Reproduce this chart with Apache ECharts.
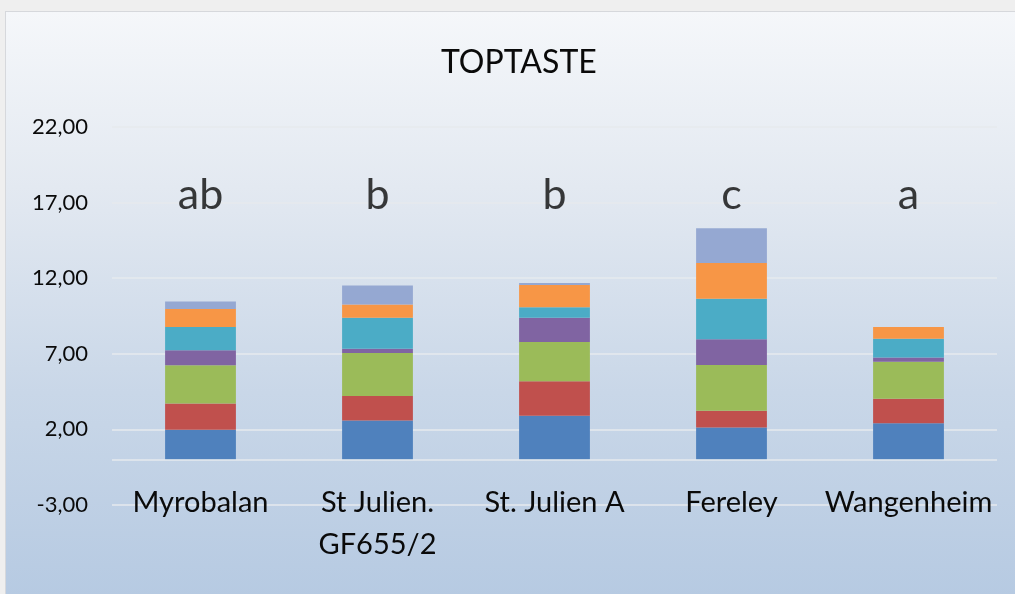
<!DOCTYPE html>
<html>
<head>
<meta charset="utf-8">
<script src="https://cdn.jsdelivr.net/npm/echarts@6/dist/echarts.min.js"></script>
<style>
  html, body { margin: 0; padding: 0; width: 1015px; height: 594px; background: #efefef; overflow: hidden; }
  #frame { position: absolute; left: 5px; top: 11px; width: 1012px; height: 585px; border: 1px solid #d6d8dc;
           background: linear-gradient(180deg, #f5f7fa 0%, #e3e9f1 30%, #c9d7e8 65%, #b6cae2 100%); }
  #chart { position: absolute; left: 0; top: 0; width: 1015px; height: 594px; }
</style>
</head>
<body>
<div id="frame"></div>
<div id="chart"></div>
<script>
const categories = ['Myrobalan', 'St Julien.\nGF655/2', 'St. Julien A', 'Fereley', 'Wangenheim'];
const seriesNames = ['S1', 'S2', 'S3', 'S4', 'S5', 'S6', 'S7'];
const s1 = [1.97, 2.59, 2.91, 2.13, 2.41];
const s2 = [1.75, 1.62, 2.28, 1.10, 1.61];
const s3 = [2.53, 2.85, 2.59, 3.03, 2.45];
const s4 = [0.99, 0.28, 1.60, 1.71, 0.28];
const s5 = [1.53, 2.04, 0.70, 2.67, 1.25];
const s6 = [1.20, 0.88, 1.47, 2.37, 0.77];
const s7 = [0.49, 1.25, 0.13, 2.30, 0.00];
const groupLetters = ['ab', 'b', 'b', 'c', 'a'];
const letterLevel = [17.5, 17.5, 17.5, 17.5, 17.5];
const yTicks = { min: -3, max: 22, interval: 5 };

const colors = ['#4f81bd', '#c0504d', '#9bbb59', '#8064a2', '#4bacc6', '#f79646', '#95a8d2'];
const values = [s1, s2, s3, s4, s5, s6, s7];
const FONT = 'Lato, "Open Sans", sans-serif';

const series = values.map((v, i) => ({
  name: seriesNames[i],
  type: 'bar',
  stack: 'total',
  barWidth: '40%',
  data: v,
  itemStyle: { color: colors[i] },
  emphasis: { disabled: true },
  markLine: i === 0 ? {
    silent: true, symbol: 'none', label: { show: false },
    lineStyle: { color: '#e6eaee', width: 1.5, type: 'solid' },
    data: [{ yAxis: 0 }]
  } : undefined,
  z: 3
}));

series.push({
  type: 'scatter',
  data: letterLevel.map((v, i) => ({ value: v, name: groupLetters[i] })),
  symbolSize: 0,
  label: {
    show: true, position: 'inside',
    formatter: p => groupLetters[p.dataIndex],
    fontFamily: FONT, fontSize: 43, color: '#0a0a0a'
  },
  silent: true,
  z: 5
});

const chart = echarts.init(document.getElementById('chart'), null, { renderer: 'canvas' });
chart.setOption({
  backgroundColor: 'transparent',
  animation: false,
  title: {
    text: 'TOPTASTE', left: 436, top: 42,
    textStyle: { fontFamily: FONT, fontSize: 32, fontWeight: 'normal', color: '#0a0a0a' }
  },
  grid: { left: 112, right: 18, top: 127, bottom: 89 },
  xAxis: {
    type: 'category',
    data: categories,
    axisLine: { show: false },
    axisTick: { show: false },
    axisLabel: {
      fontFamily: FONT, fontSize: 29, color: '#0a0a0a', margin: -23,
      lineHeight: 42, verticalAlign: 'top', interval: 0
    }
  },
  yAxis: {
    type: 'value',
    min: yTicks.min, max: yTicks.max, interval: yTicks.interval,
    axisLine: { show: false },
    axisTick: { show: false },
    splitLine: { show: true, lineStyle: { color: '#e6eaee', width: 1.5 } },
    axisLabel: {
      fontFamily: FONT, fontSize: 22, color: '#0a0a0a', margin: 24,
      formatter: v => v.toFixed(2).replace('.', ',')
    }
  },
  series: series
});
</script>
</body>
</html>
